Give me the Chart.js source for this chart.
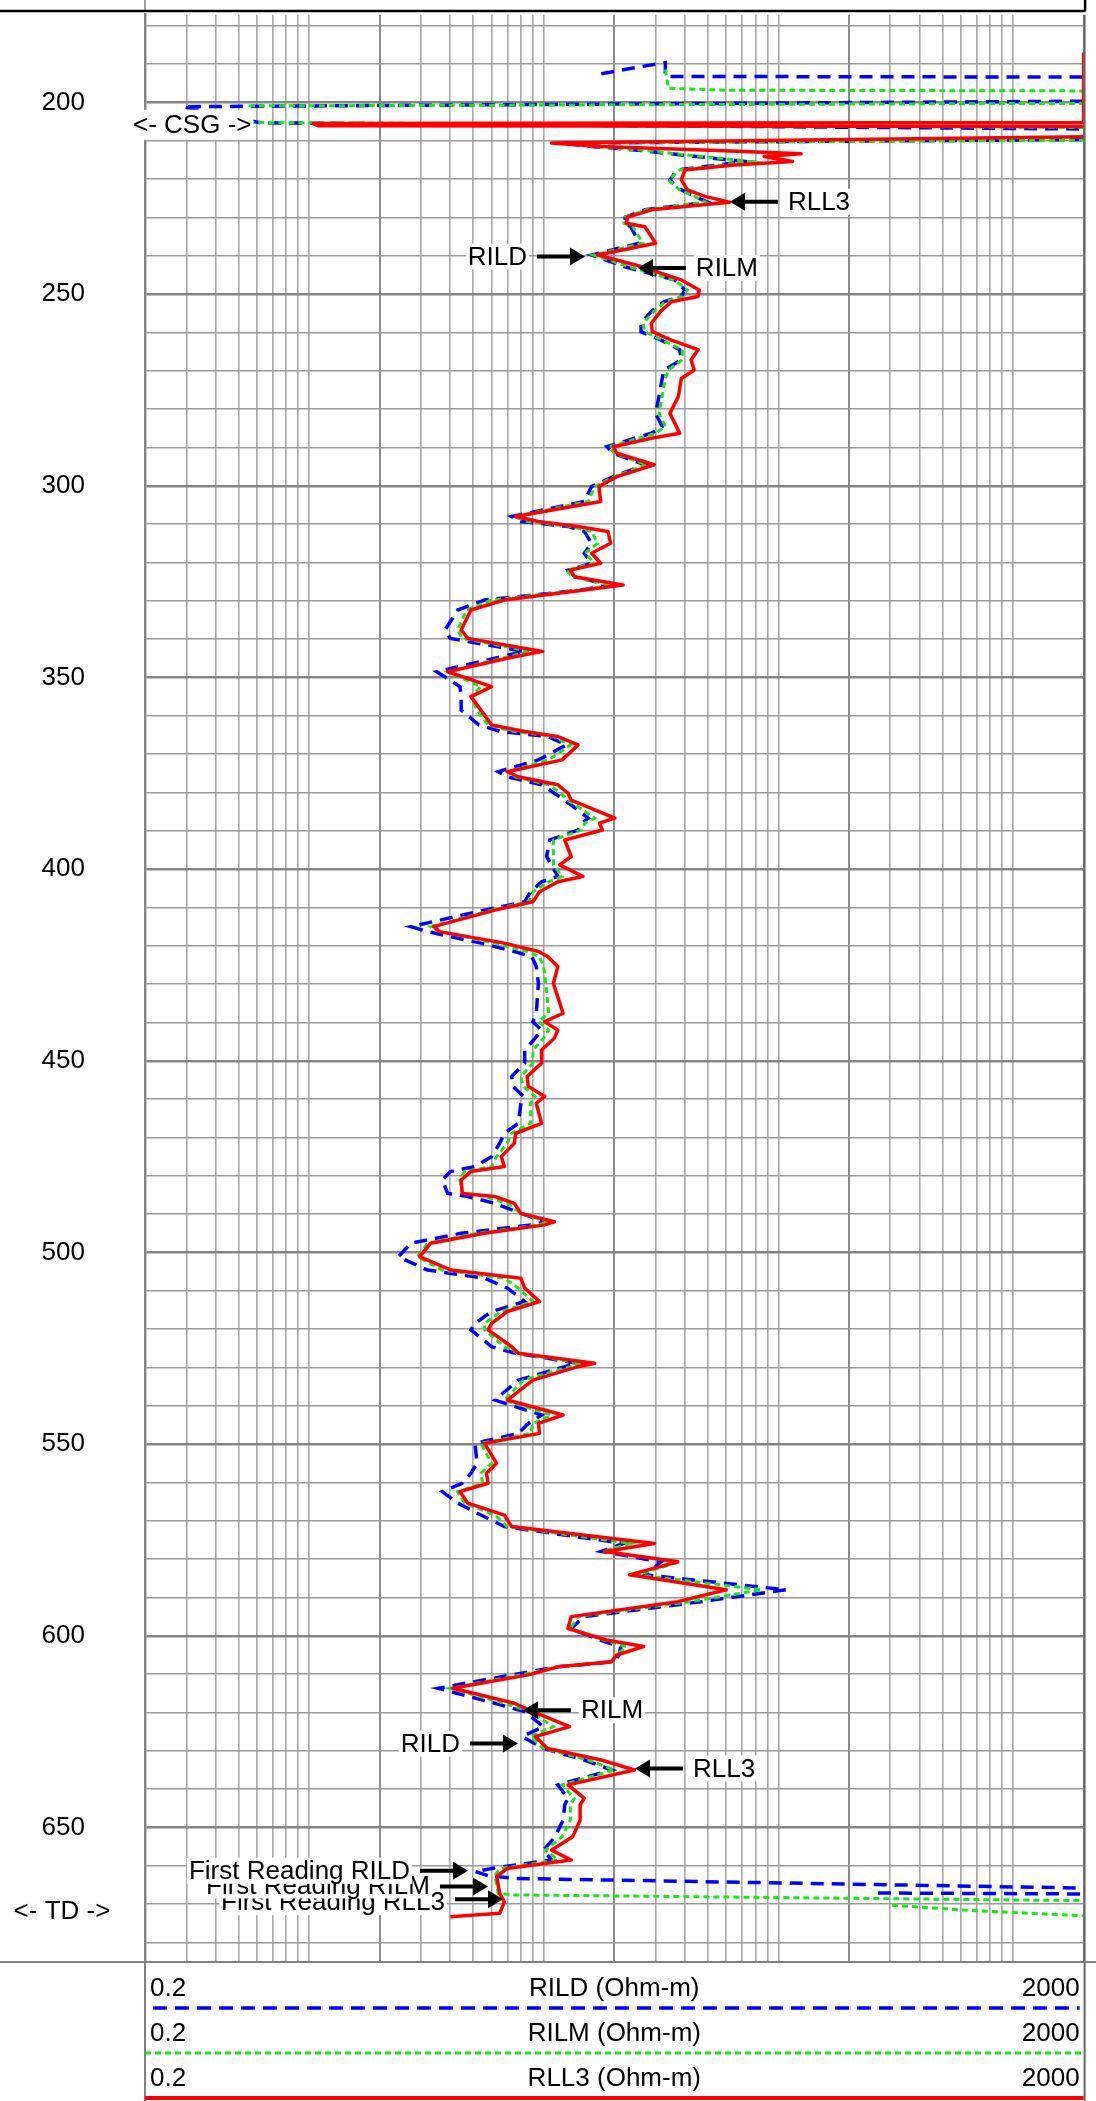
<!DOCTYPE html>
<html>
<head>
<meta charset="utf-8">
<script src="https://cdn.jsdelivr.net/npm/chart.js@4.4.1/dist/chart.umd.min.js"></script>
<style>
  html, body { margin: 0; padding: 0; background: #fff; }
  canvas { display: block; }
</style>
</head>
<body>
<canvas id="logChart" width="1096" height="2101"></canvas>
<script>
// depth (ft) samples shared by the three curves below casing
const depthMain = [
  210.6, 211.5, 212.5, 213.4, 214.1, 215.4, 216.3, 217.6, 220.2, 222.8,
  224.5, 226.0, 228.0, 229.9, 231.5, 232.4, 236.7, 239.8, 242.8, 246.3,
  248.9, 250.6, 252.0, 254.5, 257.6, 259.8, 262.0, 264.5, 267.1, 269.8,
  272.0, 276.7, 281.1, 284.5, 286.3, 287.6, 289.8, 291.5, 294.5, 297.6,
  300.2, 304.1, 308.0, 309.3, 310.6, 311.9, 315.0, 317.6, 320.2, 322.0,
  323.7, 325.9, 327.2, 329.8, 332.4, 337.6, 339.8, 343.2, 345.0, 348.5,
  352.4, 355.0, 358.5, 362.4, 364.1, 365.4, 367.6, 371.5, 374.6, 375.9,
  378.0, 380.2, 382.0, 386.7, 388.0, 389.8, 392.4, 396.7, 398.9, 401.9,
  403.3, 405.9, 408.5, 410.7, 415.0, 416.3, 419.3, 421.5, 422.8, 425.4,
  429.8, 437.6, 439.8, 442.0, 444.1, 447.2, 450.6, 454.1, 456.7, 459.3,
  461.1, 466.3, 468.9, 471.5, 475.0, 477.6, 478.9, 481.1, 484.6, 485.4,
  487.2, 489.8, 492.0, 492.8, 495.0, 497.6, 501.1, 504.6, 506.7, 509.3,
  512.8, 515.4, 518.5, 520.2, 524.6, 526.3, 528.9, 529.8, 533.3, 538.5,
  542.4, 544.6, 547.2, 549.8, 555.0, 557.6, 560.2, 562.4, 565.4, 568.5,
  571.5, 575.9, 578.0, 580.7, 584.1, 588.0, 591.1, 595.0, 598.1, 601.1,
  602.8, 605.0, 606.8, 608.1, 610.2, 613.7, 617.6, 619.8, 623.7, 626.3,
  629.4, 632.4, 635.0, 638.9, 642.4, 644.1, 648.1, 652.4, 655.9, 658.5,
  660.7
];

// RLL3 (red), Ohm-m
const rll3 = [
  10.8, 17.6, 55, 125, 87, 115, 65, 40, 38.6, 41,
  48.6, 62, 28.8, 22.8, 22.5, 27, 30, 17, 26, 38.6,
  46, 45.5, 35, 31.5, 28.8, 29, 35, 45.5, 42.5, 43.8,
  38.6, 37.5, 34.5, 36.8, 38, 28.8, 19.8, 20.5, 29.6, 20.5,
  17.2, 17.5, 7.6, 9.5, 14, 18.8, 19.3, 16, 17.5, 13,
  13.5, 21.8, 14.9, 6.8, 4.9, 4.45, 4.75, 9.9, 7, 3.9,
  6, 4.9, 5.4, 6, 8.3, 11.5, 14, 12, 7, 7.8,
  11.5, 12.7, 13.1, 20.1, 17.3, 17.8, 12.3, 13.1, 11.7, 14.7,
  11.5, 9.6, 9, 6.2, 3.4, 3.6, 6.8, 9.5, 10.4, 11.5,
  11, 12.1, 10.1, 11.5, 11.1, 9.8, 9.8, 8.5, 8.6, 10.1,
  9.3, 9.8, 7.6, 7.5, 6.6, 6.8, 4.9, 4.45, 4.5, 6.2,
  7.5, 8, 11.1, 10.1, 5.6, 3.3, 2.96, 4.03, 8, 8.3,
  9.6, 7, 6, 5.8, 7.3, 7.8, 16.5, 14, 9, 7,
  12.1, 9.5, 9.6, 5.6, 6.3, 5.7, 5.8, 4.4, 4.75, 6.8,
  7.3, 29.7, 18.2, 37.3, 23.2, 60, 37.3, 13.1, 12.7, 18.5,
  26.7, 20.5, 19.4, 11.5, 8.6, 4.1, 7.5, 9, 12.9, 9.2,
  10.4, 17.6, 24.4, 12.7, 14.9, 14.3, 14.3, 13.3, 10.8, 13.1,
  7
];

// RILM (green), Ohm-m
const rilm = [
  12.5, 16.5, 27, 37, 48, 76, 58, 38, 34, 38,
  44, 49, 27.5, 22.3, 22, 24, 26.5, 16.3, 23, 36,
  41, 39, 33, 29.5, 26.5, 27, 32, 39, 39, 34,
  33, 32, 31, 33, 30, 25.5, 19, 20, 27.5, 20,
  16.5, 15.5, 7.5, 8.5, 13, 16, 17, 15, 16.5, 12.5,
  13.2, 19.5, 14.5, 6, 4.7, 4.3, 4.5, 8.8, 6.6, 3.9,
  5.4, 4.9, 5.2, 5.8, 7.5, 11, 13, 10.5, 7, 7.5,
  10.5, 11.8, 12.7, 16.5, 15, 14.5, 11, 11, 11, 12,
  10.5, 9, 8.6, 6, 3.3, 3.6, 6.2, 8.5, 9.6, 10,
  10.2, 10.5, 9.5, 10.5, 10, 9, 9, 8, 8.2, 9.2,
  8.8, 8.8, 7.3, 7, 6.3, 6, 4.6, 4.4, 4.5, 5.6,
  7, 8, 10.5, 9.5, 5.2, 3.2, 2.9, 3.7, 6.8, 7.8,
  9, 6.6, 5.6, 5.6, 6.8, 7.8, 14.5, 13, 8.2, 6.8,
  10.8, 9, 8.8, 5.4, 6, 5.4, 5.5, 4.3, 4.6, 6.2,
  7, 23.5, 17.8, 38, 25, 85, 42, 14, 13, 18,
  22.5, 20.5, 19.5, 11.5, 8, 4, 6.8, 8.8, 11, 8.8,
  10, 15.5, 20, 12, 13.5, 13, 13, 12, 10.2, 11.5,
  6.5
];

// RILD (blue), Ohm-m
const rild = [
  12.0, 16, 26, 35, 45, 72, 56, 37, 34.5, 38.6,
  44, 50, 27, 22.3, 22, 23.5, 25.6, 16, 22, 36.2,
  40, 38.6, 32.5, 28.8, 26, 26, 31.7, 38, 38.6, 32.6,
  32, 31, 30, 32, 28.8, 24.4, 18.6, 19.8, 27, 19.8,
  16, 14.9, 7.3, 8, 12.7, 14.9, 16, 14.9, 16, 12.7,
  13.6, 19, 14.5, 5.6, 4.3, 3.8, 4, 8.3, 6.2, 3.5,
  4.4, 4.45, 4.45, 5.3, 6.6, 10.4, 12.5, 9.5, 6.4, 7,
  9.8, 11.1, 12.3, 15.5, 14.5, 14, 10.6, 10.3, 10.8, 11.5,
  9.8, 8.8, 8.3, 5.6, 2.72, 3.2, 5.4, 7.5, 8.9, 9.3,
  9.5, 9.3, 9, 9.8, 9.2, 8.3, 8.3, 7.3, 7.4, 8.2,
  8, 7.8, 6.8, 6.5, 6, 5.1, 4, 3.7, 3.9, 4.75,
  6.2, 8, 10.2, 9, 4.45, 2.72, 2.4, 3.2, 5.6, 7,
  8.3, 6, 5.1, 4.9, 6, 7.6, 14, 12.3, 7.8, 6.2,
  9.8, 8.6, 7.8, 5.1, 5.2, 4.9, 4.5, 3.7, 4.3, 5.4,
  6.8, 21.9, 17.6, 31.7, 27, 108, 46.9, 14.9, 13.1, 17.3,
  21.3, 21, 19.8, 11.5, 7.3, 3.55, 6.2, 8.3, 10, 8.1,
  10, 14.9, 19.5, 11.5, 12.7, 12.3, 12.1, 11.2, 10, 10.8,
  6
];

// casing section at the top (null = break in the trace, >2000 = off scale)
const rll3TopDepth = [187.3, 205.2, 205.5, 206.1, 206.3, 207.5, 208.8];
const rll3Top      = [2000, 2000, 1.04, 1.1, 3000, null, 3000];
const rilmTopDepth = [191.4, 196.3, 196.8, 197.0, 198.5, 200.2, 200.9, 205.2, 206.6, 208.0, 209.8];
const rilmTop      = [33, 34, 60, 3000, null, 3000, 0.56, 0.56, 3000, null, 3000];
const rildTopDepth = [192.5, 191.0, 189.6, 193.2, 193.4, 196.0, 199.6, 201.1, 205.3, 207.0, 208.0, 209.6];
const rildTop      = [17.6, 24, 33, 33, 3000, null, 3000, 0.29, 0.62, 3000, null, 3000];

// bottom section near TD
const rll3TailDepth = [662.8, 667.2, 669.4, 672.4, 673.3];
const rll3Tail      = [6.3, 6.5, 6.8, 6.5, 4.0];
const rilmTailDepth = [662.5, 665.0, 667.2, 667.6, 669.2, 669.6, 670.3, 671.5, 673.6];
const rilmTail      = [6.2, 6.3, 6.4, 7.5, 3000, null, 305, 600, 3000];
const rildTailDepth = [661.5, 662.6, 663.3, 666.0, 666.5, 667.1, 667.4];
const rildTail      = [5.1, 5.8, 7.5, 3000, null, 266, 3000];

// scale ticks
const xGridValues = [0.2, 0.3, 0.4, 0.5, 0.6, 0.7, 0.8, 0.9, 1, 2, 3, 4, 5, 6, 7, 8, 9, 10,
  20, 30, 40, 50, 60, 70, 80, 90, 100, 200, 300, 400, 500, 600, 700, 800, 900, 1000, 2000];
const xMajor = [0.2, 2, 20, 200, 2000];
const depthGrid = [180, 190, 200, 210, 220, 230, 240, 250, 260, 270, 280, 290, 300, 310, 320, 330,
  340, 350, 360, 370, 380, 390, 400, 410, 420, 430, 440, 450, 460, 470, 480, 490, 500, 510, 520,
  530, 540, 550, 560, 570, 580, 590, 600, 610, 620, 630, 640, 650, 660, 670, 680];
const depthLabels = [200, 250, 300, 350, 400, 450, 500, 550, 600, 650];

// arrow notes: tip sits on the curve (depth, value)
const arrowNotes = [
  { text: 'RLL3', depth: 225.9, value: 62.2, side: 'right', dy: 0 },
  { text: 'RILD', depth: 240.2, value: 15.0, side: 'left', dy: 0 },
  { text: 'RILM', depth: 243.2, value: 25.2, side: 'right', dy: 0 },
  { text: 'RILM', depth: 619.4, value: 8.16, side: 'right', dy: 0 },
  { text: 'RILD', depth: 628.1, value: 7.77, side: 'left', dy: 0 },
  { text: 'RLL3', depth: 634.6, value: 24.5, side: 'right', dy: 0 },
  { text: 'First Reading RLL3', depth: 668.7, value: 6.71, side: 'left', dy: 3 },
  { text: 'First Reading RILM', depth: 665.4, value: 5.79, side: 'left', dy: -1 },
  { text: 'First Reading RILD', depth: 661.3, value: 4.76, side: 'left', dy: 0 }
];
const csgDepth = 205.8;
const tdDepth = 671.8;

const legendNames = ['RILD (Ohm-m)', 'RILM (Ohm-m)', 'RLL3 (Ohm-m)'];
const legendMin = '0.2';
const legendMax = '2000';

const FONT = "'Liberation Sans', Arial, sans-serif";
const BLUE = '#0000ff', GREEN = '#19e619', RED = '#ff0000';

function toPoints(depths, values) {
  return depths.map((d, i) => ({ x: values[i], y: d }));
}

const rll3Points = toPoints(rll3TopDepth.concat(depthMain, rll3TailDepth), rll3Top.concat(rll3, rll3Tail));
const rilmPoints = toPoints(rilmTopDepth.concat(depthMain, rilmTailDepth), rilmTop.concat(rilm, rilmTail));
const rildPoints = toPoints(rildTopDepth.concat(depthMain, rildTailDepth), rildTop.concat(rild, rildTail));

function drawArrow(ctx, tipX, y, dir) {
  // dir = -1 : head points left, +1 : head points right
  const len = 48, head = 15;
  const tailX = tipX - dir * len;
  ctx.strokeStyle = '#000';
  ctx.lineWidth = 4;
  ctx.setLineDash([]);
  ctx.beginPath();
  ctx.moveTo(tailX, y);
  ctx.lineTo(tipX - dir * head, y);
  ctx.stroke();
  ctx.fillStyle = '#000';
  ctx.beginPath();
  ctx.moveTo(tipX, y);
  ctx.lineTo(tipX - dir * head, y - 9);
  ctx.lineTo(tipX - dir * head, y + 9);
  ctx.closePath();
  ctx.fill();
  return tailX;
}

function boxedText(ctx, text, x, y, align) {
  ctx.font = '26px ' + FONT;
  const w = ctx.measureText(text).width;
  const left = align === 'right' ? x - w : x;
  ctx.fillStyle = '#fff';
  ctx.fillRect(left - 2, y - 13, w + 4, 26);
  ctx.fillStyle = '#000';
  ctx.textAlign = align;
  ctx.textBaseline = 'middle';
  ctx.fillText(text, x, y + 1);
}

const notesPlugin = {
  id: 'notes',
  afterDatasetsDraw(chart) {
    const { ctx, scales: { x, y }, chartArea: a } = chart;
    ctx.save();
    arrowNotes.forEach(n => {
      const tipX = x.getPixelForValue(n.value);
      const py = y.getPixelForValue(n.depth);
      if (n.side === 'right') {
        const tail = drawArrow(ctx, tipX, py, -1);
        boxedText(ctx, n.text, tail + 10, py + n.dy, 'left');
      } else {
        const tail = drawArrow(ctx, tipX, py, 1);
        boxedText(ctx, n.text, tail - 10, py + n.dy, 'right');
      }
    });
    // casing marker
    const cy = y.getPixelForValue(csgDepth);
    ctx.font = '26px ' + FONT;
    const cw = ctx.measureText('<- CSG ->').width;
    ctx.fillStyle = '#fff';
    ctx.fillRect(a.left - 14, cy - 15, cw + 4, 30);
    ctx.fillStyle = '#000';
    ctx.textAlign = 'left';
    ctx.textBaseline = 'middle';
    ctx.fillText('<- CSG ->', a.left - 12, cy + 1);
    // total depth marker
    const ty = y.getPixelForValue(tdDepth);
    ctx.textAlign = 'center';
    ctx.fillText('<- TD ->', 62, ty + 1);
    ctx.restore();
  },
  afterDraw(chart) {
    const { ctx, chartArea: a } = chart;
    const W = chart.width, H = chart.height;
    ctx.save();
    // header frame
    ctx.strokeStyle = '#000';
    ctx.lineWidth = 2.5;
    ctx.beginPath();
    ctx.moveTo(0, 11); ctx.lineTo(a.right + 2, 11);
    ctx.moveTo(a.right + 1.5, 0); ctx.lineTo(a.right + 1.5, 11);
    ctx.stroke();
    ctx.strokeStyle = '#808080';
    ctx.lineWidth = 1.5;
    ctx.beginPath();
    ctx.moveTo(a.left, 0); ctx.lineTo(a.left, 10);
    ctx.stroke();
    // right border
    ctx.strokeStyle = '#666';
    ctx.lineWidth = 2;
    ctx.beginPath();
    ctx.moveTo(a.right + 1, a.top); ctx.lineTo(a.right + 1, H);
    ctx.stroke();
    // legend frame
    ctx.strokeStyle = '#808080';
    ctx.lineWidth = 2;
    ctx.beginPath();
    ctx.moveTo(0, a.bottom); ctx.lineTo(W, a.bottom);
    ctx.moveTo(a.left, a.bottom); ctx.lineTo(a.left, H);
    ctx.stroke();
    // legend rows
    const styles = [
      { color: BLUE, width: 3.5, dash: [14, 8], x0: a.left + 8, x1: a.right - 4 },
      { color: GREEN, width: 3, dash: [6, 4], x0: a.left, x1: a.right },
      { color: RED, width: 4, dash: [], x0: a.left, x1: a.right }
    ];
    const mid = (a.left + a.right) / 2;
    ctx.font = '26px ' + FONT;
    ctx.textBaseline = 'middle';
    legendNames.forEach((name, i) => {
      const ty = a.bottom + 27 + i * 45;
      ctx.fillStyle = '#000';
      ctx.textAlign = 'left';
      ctx.fillText(legendMin, a.left + 5, ty);
      ctx.textAlign = 'center';
      ctx.fillText(name, mid, ty);
      ctx.textAlign = 'right';
      ctx.fillText(legendMax, a.right - 4, ty);
      const s = styles[i];
      const ly = a.bottom + 46 + i * 45;
      ctx.strokeStyle = s.color;
      ctx.lineWidth = s.width;
      ctx.setLineDash(s.dash);
      ctx.beginPath();
      ctx.moveTo(s.x0, ly); ctx.lineTo(s.x1, ly);
      ctx.stroke();
    });
    ctx.restore();
  }
};

const ctx = document.getElementById('logChart');
const logChart = new Chart(ctx, {
  type: 'scatter',
  data: {
    datasets: [
      {
        label: 'RLL3',
        data: rll3Points,
        showLine: true,
        borderColor: RED,
        borderWidth: 3.5,
        borderJoinStyle: 'round',
        pointRadius: 0,
        fill: false,
        tension: 0
      },
      {
        label: 'RILM',
        data: rilmPoints,
        showLine: true,
        borderColor: GREEN,
        borderWidth: 3,
        borderDash: [6, 4],
        pointRadius: 0,
        fill: false,
        tension: 0
      },
      {
        label: 'RILD',
        data: rildPoints,
        showLine: true,
        borderColor: BLUE,
        borderWidth: 3.5,
        borderDash: [13, 8],
        pointRadius: 0,
        fill: false,
        tension: 0
      }
    ]
  },
  options: {
    responsive: false,
    animation: false,
    devicePixelRatio: 1,
    spanGaps: false,
    layout: { padding: { top: 14.7, right: 12.4, bottom: 139, left: 0 } },
    plugins: { legend: { display: false }, tooltip: { enabled: false } },
    scales: {
      x: {
        type: 'logarithmic',
        min: 0.2,
        max: 2000,
        afterBuildTicks: axis => { axis.ticks = xGridValues.map(v => ({ value: v })); },
        afterFit: axis => { axis.height = 0; axis.paddingLeft = 0; axis.paddingRight = 0; },
        ticks: { display: false },
        border: { display: false },
        grid: {
          drawTicks: false,
          color: c => xMajor.includes(c.tick.value) ? '#8a8a8a' : '#a8a8a8',
          lineWidth: c => xMajor.includes(c.tick.value) ? 2 : 1.6
        }
      },
      y: {
        type: 'linear',
        reverse: true,
        min: 177.1,
        max: 685.1,
        afterBuildTicks: axis => { axis.ticks = depthGrid.map(v => ({ value: v })); },
        // labels sit 60px left of the track; drop the extra top/bottom padding that adds
        afterFit: axis => { axis.width = 145; axis.paddingTop = 0; axis.paddingBottom = 0; },
        ticks: {
          autoSkip: false,
          padding: 60,
          color: '#000',
          font: { family: FONT, size: 26 },
          callback: v => depthLabels.includes(v) ? String(v) : ''
        },
        border: { display: true, color: '#858585', width: 2.5 },
        grid: {
          drawTicks: false,
          color: c => depthLabels.includes(c.tick.value) ? '#858585' : '#9a9a9a',
          lineWidth: c => depthLabels.includes(c.tick.value) ? 2.4 : 1.6
        }
      }
    }
  },
  plugins: [notesPlugin]
});
</script>
</body>
</html>
